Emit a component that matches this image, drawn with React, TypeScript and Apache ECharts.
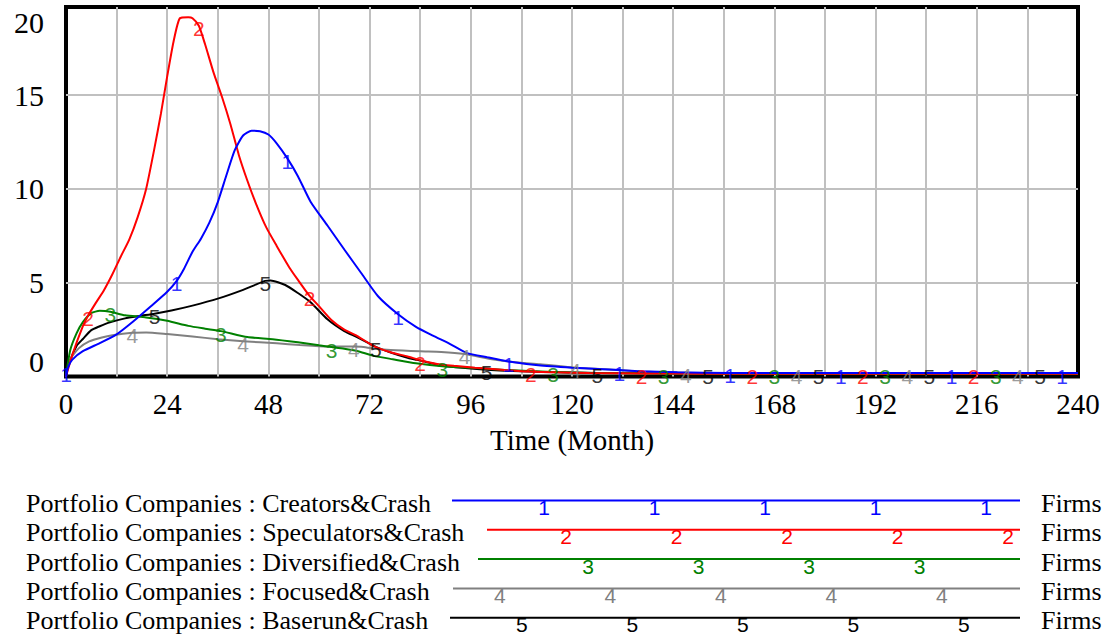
import React, { useEffect, useRef } from "react";
import * as echarts from "echarts";

// Portfolio Companies (Firms) over time, months 0..240, sampled as [month, firms]
const creators: [number, number][] = [
  [0, 0], [0.5, 0.5], [1.5, 0.9], [4, 1.35], [8, 1.78], [12, 2.25], [16, 2.95], [20, 3.72],
  [24, 4.52], [26.25, 5.1], [28, 5.75], [30, 6.65], [32, 7.35], [34, 8.2], [36, 9.3], [38, 10.7],
  [40, 12.05], [42, 12.85], [44, 13.1], [46, 13.08], [48, 12.9], [50, 12.42], [52.5, 11.63],
  [55, 10.68], [58, 9.32], [62, 8.05], [66, 6.77], [70, 5.52], [74, 4.28], [78.75, 3.32],
  [83, 2.65], [87, 2.18], [91, 1.74], [95, 1.26], [100, 1.02], [105, 0.8], [112, 0.6],
  [120, 0.47], [126, 0.4], [131.25, 0.34], [136, 0.28], [145, 0.22], [157.5, 0.19],
  [183.75, 0.18], [210, 0.18], [236.25, 0.18], [240, 0.18],
];

const speculators: [number, number][] = [
  [0, 0], [1.5, 1.15], [4, 2.68], [5.25, 3.25], [7, 3.9], [9, 4.6], [11, 5.45], [13, 6.4],
  [15, 7.3], [17, 8.5], [19, 10.0], [21, 12.2], [22.5, 14.0], [24, 16.0], [25.5, 17.85],
  [27, 19.1], [29, 19.15], [30, 19.1], [31.5, 18.7], [33, 17.7], [35, 16.2], [37, 14.9],
  [39, 13.45], [41, 11.8], [43, 10.45], [45, 9.25], [47.5, 7.95], [50, 6.95], [53, 5.8],
  [55, 5.15], [57.75, 4.3], [60, 3.75], [63, 3.0], [66, 2.5], [69, 2.17], [73, 1.62],
  [77, 1.29], [81, 1.07], [84, 0.87], [88, 0.67], [92, 0.57], [97, 0.47], [104, 0.35],
  [110.25, 0.26], [116, 0.22], [124, 0.19], [136.5, 0.16], [150, 0.15], [162.75, 0.15],
  [189, 0.15], [215.25, 0.15], [240, 0.15],
];

const diversified: [number, number][] = [
  [0, 0], [1, 1.4], [2.5, 2.3], [4, 2.9], [6, 3.38], [8, 3.5], [10.5, 3.45], [14, 3.26],
  [19, 3.15], [24, 2.97], [29, 2.7], [33, 2.55], [36.75, 2.42], [43, 2.1], [49, 1.99],
  [55, 1.82], [60, 1.66], [63, 1.57], [66, 1.48], [69, 1.36], [73, 1.1], [77.5, 0.92],
  [83, 0.71], [89.25, 0.55], [96, 0.47], [104, 0.35], [115.5, 0.24], [125, 0.19],
  [141.75, 0.16], [168, 0.15], [194.25, 0.15], [220.5, 0.15], [240, 0.15],
];

const focused: [number, number][] = [
  [0, 0], [1, 0.9], [3, 1.5], [5.5, 1.87], [8.5, 2.08], [11, 2.2], [15.75, 2.33], [19, 2.35],
  [24, 2.26], [30, 2.13], [36, 1.99], [42, 1.88], [50, 1.77], [55.5, 1.68], [62, 1.6],
  [68.25, 1.6], [70, 1.58], [73, 1.49], [77, 1.41], [84, 1.34], [89, 1.31], [94.5, 1.2],
  [101, 0.92], [106, 0.77], [112.5, 0.65], [120.75, 0.47], [128, 0.38], [136, 0.27],
  [147, 0.2], [173.25, 0.16], [199.5, 0.15], [225.75, 0.15], [240, 0.15],
];

const baserun: [number, number][] = [
  [0, 0], [0.5, 0.55], [2.5, 1.63], [4, 2.0], [6, 2.47], [8, 2.68], [10, 2.86], [14, 3.1],
  [17.5, 3.23], [21, 3.35], [25, 3.52], [30, 3.78], [36, 4.15], [42, 4.62], [45, 4.9],
  [47.25, 5.1], [48.5, 5.12], [52, 4.88], [55, 4.45], [58, 3.96], [62, 3.05], [66, 2.42],
  [69, 2.1], [73.5, 1.58], [77, 1.28], [81, 1.0], [85, 0.8], [89, 0.59], [94, 0.46],
  [99.75, 0.36], [106, 0.29], [113, 0.24], [126, 0.19], [152.25, 0.16], [178.5, 0.15],
  [204.75, 0.15], [231, 0.15], [240, 0.15],
];

const seriesNames = [
  "Portfolio Companies : Creators&Crash",
  "Portfolio Companies : Speculators&Crash",
  "Portfolio Companies : Diversified&Crash",
  "Portfolio Companies : Focused&Crash",
  "Portfolio Companies : Baserun&Crash",
];
const seriesData = [creators, speculators, diversified, focused, baserun];
const seriesColors = ["#0000ff", "#ff0000", "#008000", "#808080", "#000000"];
const units = "Firms";

const xTicks = [0, 24, 48, 72, 96, 120, 144, 168, 192, 216, 240];
const yTicks = [0, 5, 10, 15, 19.7];
const Y_MAX = 19.7;

// numbered line markers: every MARK_PERIOD months, each series shifted by MARK_STAGGER
const MARK_PERIOD = 26.25;
const MARK_STAGGER = 5.25;

const SERIF = "Liberation Serif";
const SANS = "Liberation Sans";
const MARK_FONT = 21;

function markerPoints(data: [number, number][], idx: number) {
  return data
    .filter(([t]) => {
      const k = (t - idx * MARK_STAGGER) / MARK_PERIOD;
      return k > -1e-9 && Math.abs(k - Math.round(k)) < 1e-6;
    })
    .map((p) =>
      // the mark at the origin sits on the axis line rather than under the curve
      p[0] === 0 ? { value: p, label: { offset: [0, -2] } } : p
    );
}

// legend layout
const LEGEND_TEXT_X = 26;
const LEGEND_LINE_Y0 = 500.5;
const LEGEND_ROW = 29.3;
const legendLineStart = [452, 487, 478, 453, 450];
const LEGEND_LINE_END = 1020;
const LEGEND_MARK_X0 = 433.5;
const LEGEND_MARK_STEP = 22.1;

function buildLegend() {
  const els: any[] = [];
  seriesNames.forEach((name, i) => {
    const y = LEGEND_LINE_Y0 + LEGEND_ROW * i;
    els.push({
      type: "text",
      style: {
        text: name, x: LEGEND_TEXT_X, y: y + 3, fill: "#000",
        fontSize: 26, fontFamily: SERIF, verticalAlign: "middle", align: "left",
      },
    });
    els.push({
      type: "line",
      shape: { x1: legendLineStart[i], y1: y, x2: LEGEND_LINE_END, y2: y },
      style: { stroke: seriesColors[i], lineWidth: 2 },
    });
    els.push({
      type: "text",
      style: {
        text: units, x: 1041, y: y + 3, fill: "#000",
        fontSize: 26, fontFamily: SERIF, verticalAlign: "middle", align: "left",
      },
    });
  });
  for (let j = 0; j < 40; j++) {
    const x = LEGEND_MARK_X0 + LEGEND_MARK_STEP * j;
    const s = j % 5;
    if (x < legendLineStart[s] + 8 || x > LEGEND_LINE_END) continue;
    const y = LEGEND_LINE_Y0 + LEGEND_ROW * s;
    els.push({
      type: "text",
      z: 10,
      style: {
        text: String(s + 1), x, y: y + 7, fill: seriesColors[s],
        fontSize: MARK_FONT, fontFamily: SANS, verticalAlign: "middle", align: "center",
      },
    });
  }
  return els;
}

export default function App() {
  const ref = useRef<HTMLDivElement>(null);

  useEffect(() => {
    if (!ref.current) return;
    const chart = echarts.init(ref.current, undefined, { renderer: "svg" });

    const lineSeries = seriesData.map((data, i) => ({
      type: "line",
      name: seriesNames[i],
      data,
      symbol: "none",
      showSymbol: false,
      smooth: 0.2,
      lineStyle: { color: seriesColors[i], width: 2 },
      itemStyle: { color: seriesColors[i] },
      z: 7 - i,
      silent: true,
    }));

    const markSeries = seriesData.map((data, i) => ({
      type: "scatter",
      name: seriesNames[i] + " marks",
      data: markerPoints(data, i),
      symbol: "circle",
      symbolSize: 1,
      itemStyle: { color: "rgba(0,0,0,0)" },
      label: {
        show: true,
        formatter: String(i + 1),
        position: "inside",
        offset: [0, 3],
        color: seriesColors[i],
        fontSize: MARK_FONT,
        fontFamily: SANS,
      },
      z: 10,
      silent: true,
    }));

    chart.setOption({
      animation: false,
      backgroundColor: "#ffffff",
      grid: {
        left: 66,
        right: 29,
        top: 7,
        bottom: 260.5,
        show: true,
        borderColor: "#000",
        borderWidth: 4,
        backgroundColor: "#fff",
      },
      xAxis: {
        type: "value",
        min: 0,
        max: 240,
        interval: 12,
        name: "Time (Month)",
        nameLocation: "middle",
        nameGap: 49,
        nameTextStyle: { fontSize: 29, fontFamily: SERIF, color: "#000" },
        axisLine: { show: false },
        axisTick: { show: false },
        axisLabel: {
          customValues: xTicks,
          fontSize: 29,
          fontFamily: SERIF,
          color: "#000",
          margin: 13,
        },
        splitLine: {
          show: true,
          showMinLine: false,
          showMaxLine: false,
          lineStyle: { color: "#c0c0c0", width: 2 },
        },
      },
      yAxis: {
        type: "value",
        min: 0,
        max: Y_MAX,
        interval: 5,
        axisLine: { show: false },
        axisTick: { show: false },
        axisLabel: {
          customValues: yTicks,
          formatter: (v: number) => String(Math.round(v / 5) * 5),
          fontSize: 30,
          fontFamily: SERIF,
          color: "#000",
          margin: 22,
          verticalAlignMinLabel: "bottom",
          verticalAlignMaxLabel: "top",
        },
        splitLine: {
          show: true,
          showMinLine: false,
          showMaxLine: false,
          lineStyle: { color: "#c0c0c0", width: 2 },
        },
      },
      graphic: buildLegend(),
      series: [...lineSeries, ...markSeries],
    });

    return () => chart.dispose();
  }, []);

  return (
    <div
      ref={ref}
      style={{ position: "absolute", left: 0, top: 0, width: 1107, height: 637 }}
    />
  );
}
